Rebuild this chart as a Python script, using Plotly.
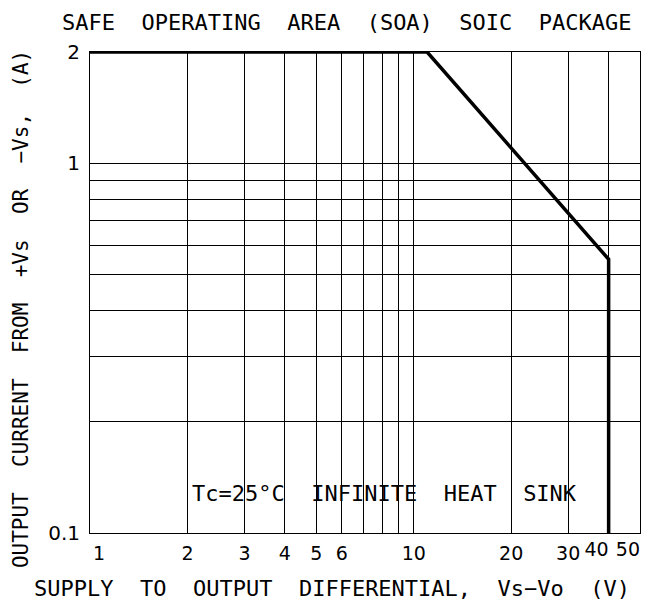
import plotly.graph_objects as go

# ---- data ----
soa_x = [1, 11, 40, 40]          # Vs-Vo (V)
soa_y = [2, 2, 0.55, 0.1]        # output current (A)

x_grid = [1, 2, 3, 4, 5, 6, 7, 8, 9, 10, 20, 30, 40, 50]
x_labels = ["   1", "2", "3", "4", "5", "6", "", "", "", "10", "20", "30", "", ""]
x_end_ticks = [40, 50]
x_end_labels = ["40", "50"]
y_grid = [0.1, 0.2, 0.3, 0.4, 0.5, 0.6, 0.7, 0.8, 0.9, 1, 2]
y_labels = ["0.1", "", "", "", "", "", "", "", "", "1", "2"]

MONO = "DejaVu Sans Mono"
SANS = "DejaVu Sans"

fig = go.Figure()
fig.add_trace(go.Scatter(
    x=soa_x, y=soa_y, mode="lines",
    line=dict(color="black", width=3.5),
    cliponaxis=False, showlegend=False, hoverinfo="skip",
))
# invisible copy so the secondary (label-only) x axis is drawn
fig.add_trace(go.Scatter(
    x=soa_x, y=soa_y, mode="lines", xaxis="x2",
    line=dict(color="rgba(0,0,0,0)", width=0),
    showlegend=False, hoverinfo="skip",
))

axis_common = dict(
    type="log", showgrid=True, gridcolor="black", gridwidth=1,
    showline=True, linecolor="black", linewidth=1, mirror=True,
    ticks="", zeroline=False, automargin=False, tickangle=0,
    ticklabeloverflow="allow",
)

fig.update_layout(
    xaxis=dict(range=[0, 1.69897], tickvals=x_grid, ticktext=x_labels,
               ticklabelstandoff=3,
               tickfont=dict(family=SANS, size=19, color="black"), **axis_common),
    xaxis2=dict(type="log", range=[0, 1.69897], overlaying="x", side="bottom",
                tickvals=x_end_ticks, ticktext=x_end_labels,
                ticklabelposition="outside left", ticklabelstandoff=3,
                showgrid=False, showline=False, zeroline=False, ticks="",
                automargin=False, tickangle=0, ticklabeloverflow="allow",
                tickfont=dict(family=SANS, size=19, color="black")),
    yaxis=dict(range=[-1, 0.30103], tickvals=y_grid, ticktext=y_labels,
               ticklabelstandoff=5,
               tickfont=dict(family=SANS, size=20, color="black"), **axis_common),
)

# white box behind the condition label (covers grid, not the curve)
fig.add_shape(type="rect", xref="x", yref="paper", x0=2.06, x1=37.5,
              y0=0.032, y1=0.138, fillcolor="white", line=dict(width=0),
              layer="between")

txt = dict(family=MONO, size=22, color="black")
fig.add_annotation(text="Tc=25°C  INFINITE  HEAT  SINK", xref="paper", yref="paper",
                   x=0.5355, y=0.082, showarrow=False, font=txt,
                   xanchor="center", yanchor="middle")
fig.add_annotation(text="SAFE  OPERATING  AREA  (SOA)  SOIC  PACKAGE",
                   xref="paper", yref="paper", x=0.467, y=1.062,
                   showarrow=False, font=txt, xanchor="center", yanchor="middle")
fig.add_annotation(text="SUPPLY  TO  OUTPUT  DIFFERENTIAL,  Vs−Vo  (V)",
                   xref="paper", yref="paper", x=0.44, y=-0.116,
                   showarrow=False, font=txt, xanchor="center", yanchor="middle")
fig.add_annotation(text="OUTPUT  CURRENT  FROM  +Vs  OR  −Vs,  (A)",
                   xref="paper", yref="paper", x=-0.125, y=0.466, textangle=-90,
                   showarrow=False, font=dict(family=MONO, size=21, color="black"),
                   xanchor="center", yanchor="middle")

# the page body adds an 8px margin; size/margins compensate so the plot
# sits where the reference has it and no scrollbar appears
fig.update_layout(
    template="none",
    width=647, height=594,
    margin=dict(l=82, r=15, t=44, b=69, pad=0),
    paper_bgcolor="white", plot_bgcolor="white",
    showlegend=False,
)

fig.write_html("out.html")
